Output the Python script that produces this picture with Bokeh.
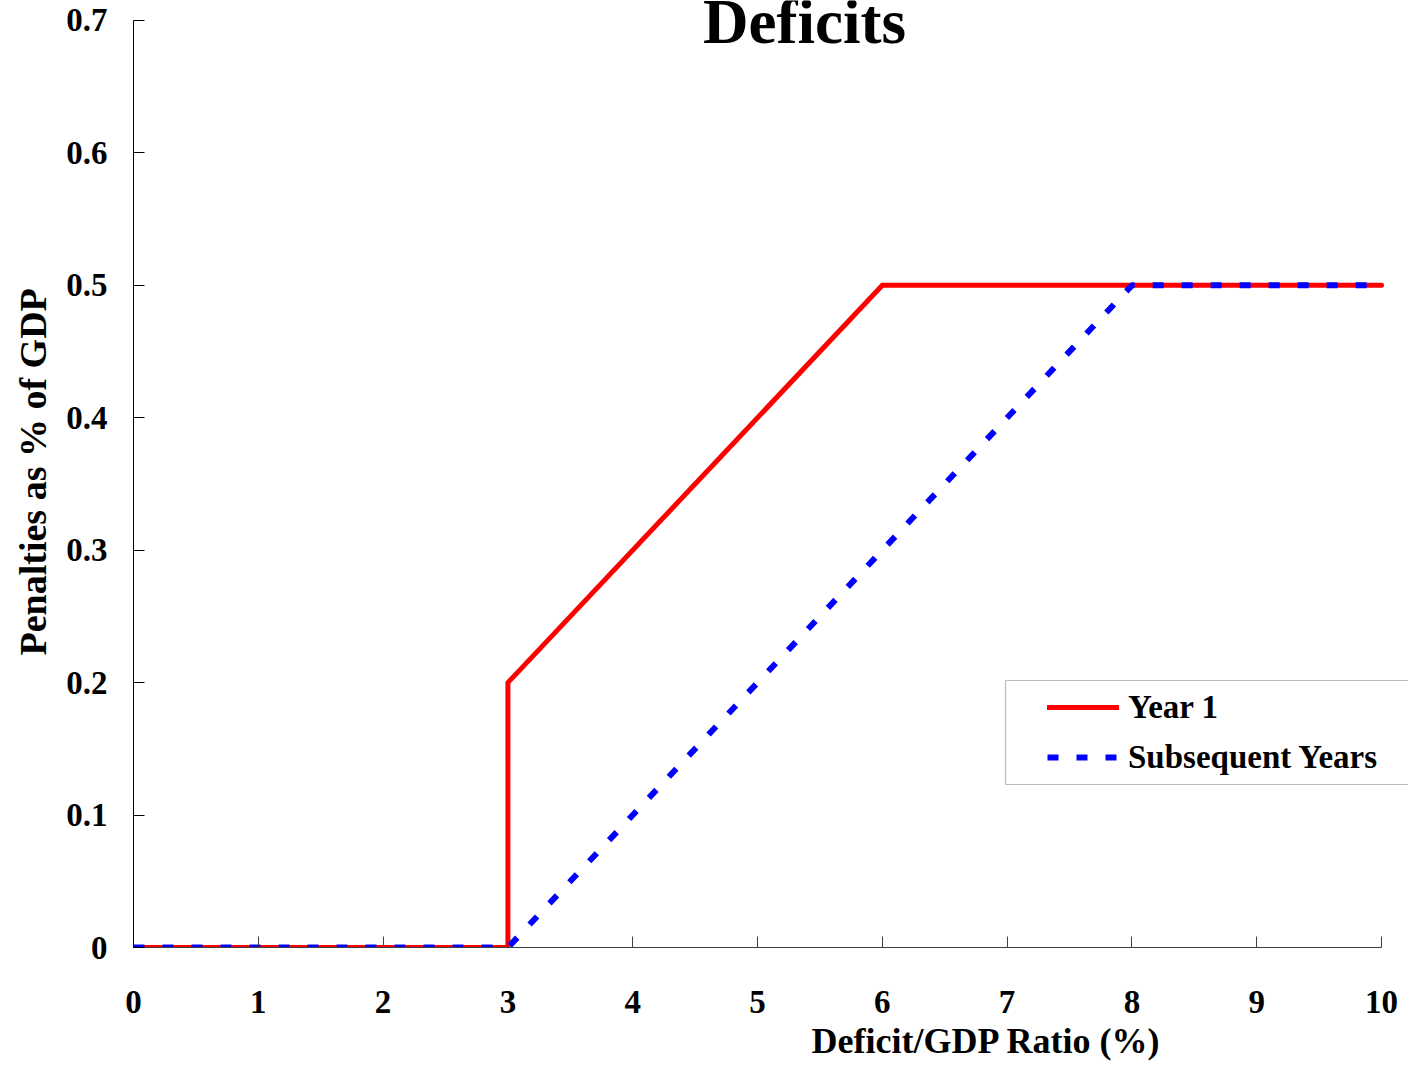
from bokeh.plotting import figure
from bokeh.models import Range1d, FixedTicker, Label, Legend, LegendItem, BoxAnnotation, Title
from bokeh.embed import file_html
from bokeh.resources import INLINE

# ---- data ----
x_year1 = [0, 3, 3, 6, 10]
y_year1 = [0, 0, 0.2, 0.5, 0.5]
x_subseq = [0, 3, 8, 10]
y_subseq = [0, 0, 0.5, 0.5]
series_names = ["Year 1", "Subsequent Years"]
x_ticks = [0, 1, 2, 3, 4, 5, 6, 7, 8, 9, 10]
x_tick_labels = ["0", "1", "2", "3", "4", "5", "6", "7", "8", "9", "10"]
y_ticks = [0, 0.1, 0.2, 0.3, 0.4, 0.5, 0.6, 0.7]
y_tick_labels = ["0", "0.1", "0.2", "0.3", "0.4", "0.5", "0.6", "0.7"]
title_text = "Deficits"
x_title = "Deficit/GDP Ratio (%)"
y_title = "Penalties as % of GDP"

FONT = "Liberation Serif"

p = figure(width=1408, height=1064, output_backend="svg", toolbar_location=None,
           title=None, x_range=Range1d(0, 10.2163), y_range=Range1d(0, 0.7151),
           min_border_left=133, min_border_right=0, min_border_top=0,
           min_border_bottom=117)
p.outline_line_color = None
p.xgrid.visible = False
p.ygrid.visible = False
p.background_fill_color = "white"
p.border_fill_color = "white"

# axes
for ax in (p.xaxis[0], p.yaxis[0]):
    ax.major_tick_in = 11
    ax.major_tick_out = 0
    ax.minor_tick_in = 0
    ax.minor_tick_out = 0
    ax.major_label_text_font = FONT
    ax.major_label_text_font_style = "bold"
    ax.major_label_text_font_size = "33px"
    ax.major_label_text_color = "black"

p.xaxis.ticker = FixedTicker(ticks=x_ticks)
p.xaxis.major_label_overrides = {t: l for t, l in zip(x_ticks, x_tick_labels)}
p.xaxis.bounds = (0, 10)
p.xaxis.axis_line_color = "#404040"
p.xaxis.major_tick_line_color = "#404040"
p.xaxis.major_label_standoff = 43

p.yaxis.ticker = FixedTicker(ticks=y_ticks)
p.yaxis.major_label_overrides = {t: l for t, l in zip(y_ticks, y_tick_labels)}
p.yaxis.bounds = (0, 0.7)
p.yaxis.axis_line_color = "black"
p.yaxis.major_tick_line_color = "black"
p.yaxis.major_label_standoff = 26

# lines
r1 = p.line(x_year1, y_year1, line_color="#FF0000", line_width=5, line_cap="round",
            line_join="miter")
r2 = p.line(x_subseq, y_subseq, line_color="#0000FF", line_width=6, line_dash="11 18")

# legend frame box
box = BoxAnnotation(left=6.987, right=10.6, bottom=0.1231, top=0.2016,
                    fill_alpha=0, line_color="#222222", line_width=1.2)
p.add_layout(box)

legend = Legend(items=[LegendItem(label=series_names[0], renderers=[r1]),
                       LegendItem(label=series_names[1], renderers=[r2])],
                location=(914, 171), padding=0, margin=0, spacing=12,
                glyph_width=72, glyph_height=38, label_height=38,
                label_standoff=9, border_line_color=None,
                background_fill_alpha=0,
                label_text_font=FONT, label_text_font_style="bold",
                label_text_font_size="33px", label_text_color="black",
                label_text_baseline="middle")
p.add_layout(legend, "center")

# chart title (inside the frame area, top of page)
p.add_layout(Label(x=5.377, y=0.6985, text=title_text, text_font=FONT,
                   text_font_style="bold", text_font_size="63px",
                   text_align="center", text_baseline="alphabetic",
                   text_color="black"))

# axis titles
p.add_layout(Title(text=x_title, align="left", offset=678, standoff=7,
                   text_font=FONT, text_font_style="bold",
                   text_font_size="36px", text_color="black"), "below")
p.add_layout(Title(text=y_title, align="left", offset=292, standoff=19,
                   text_font=FONT, text_font_style="bold",
                   text_font_size="38px", text_color="black"), "left")

open("out.html", "w").write(file_html(p, INLINE))
